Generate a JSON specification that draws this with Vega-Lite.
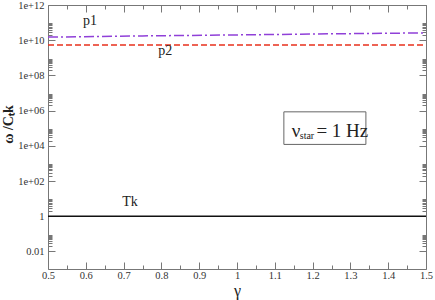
{
  "$schema": "https://vega.github.io/schema/vega-lite/v6.json",
  "width": 378,
  "height": 264,
  "autosize": {"type": "none"},
  "padding": {"left": 48, "top": 5, "right": 9, "bottom": 31},
  "config": {
    "view": {"stroke": null},
    "font": "Liberation Serif",
    "axis": {"grid": false, "domainColor": "#777", "tickColor": "#777", "labelColor": "#333", "labelFont": "Liberation Serif", "labelFontSize": 10.5, "titleFont": "Liberation Serif", "titleColor": "#222", "labelOverlap": false, "labelBound": false}
  },
  "datasets": {
    "lines": [
      {"g": 0.5, "v": 1.5e10, "s": "p1"},
      {"g": 0.75, "v": 1.75e10, "s": "p1"},
      {"g": 1.0, "v": 2.0e10, "s": "p1"},
      {"g": 1.25, "v": 2.3e10, "s": "p1"},
      {"g": 1.5, "v": 2.6e10, "s": "p1"},
      {"g": 0.5, "v": 5.4e9, "s": "p2"},
      {"g": 1.5, "v": 5.4e9, "s": "p2"},
      {"g": 0.5, "v": 1, "s": "Tk"},
      {"g": 1.5, "v": 1, "s": "Tk"}
    ],
    "labels": [
      {"g": 0.611, "v": 7.4e10, "t": "p1"},
      {"g": 0.81, "v": 1.4e9, "t": "p2"},
      {"g": 0.717, "v": 3.6, "t": "Tk"}
    ],
    "box": [{"g1": 1.124, "g2": 1.341, "v1": 1.2e4, "v2": 8.5e5}],
    "boxtext": [
      {"g": 1.145, "v": 3.2e4, "t": "ν", "k": "big"},
      {"g": 1.166, "v": 2.5e4, "t": "star", "k": "small"},
      {"g": 1.21, "v": 3.2e4, "t": "= 1 Hz", "k": "big"}
    ]
  },
  "layer": [
    {
      "data": {"name": "lines"},
      "mark": {"type": "line", "clip": true},
      "encoding": {
        "x": {"field": "g", "type": "quantitative", "scale": {"domain": [0.5, 1.5], "nice": false, "zero": false},
          "axis": {"orient": "bottom", "values": [0.5, 0.6, 0.7, 0.8, 0.9, 1, 1.1, 1.2, 1.3, 1.4, 1.5], "format": "~g", "tickSize": -7, "labelPadding": 8, "title": "γ", "titleFontSize": 16, "titleFontWeight": "normal", "titlePadding": 0, "titleY": 26, "titleBaseline": "alphabetic", "labelFlush": false}},
        "y": {"field": "v", "type": "quantitative", "scale": {"type": "log", "domain": [0.001, 1e12], "nice": false},
          "axis": {"orient": "left", "values": [0.01, 1, 100, 10000, 1000000, 100000000, 10000000000, 1000000000000], "labelExpr": "datum.value > 50 ? '1e+' + (round(log(datum.value)/LN10) < 10 ? '0' : '') + round(log(datum.value)/LN10) : (datum.value > 0.5 ? '1' : '0.01')", "tickSize": -7, "labelPadding": 11, "title": "ω /Cₜk", "titleFontSize": 14, "titleFontWeight": "bold", "titleX": -36, "titleY": 119, "titleAngle": 270, "titleAlign": "center", "titleBaseline": "alphabetic", "labelFlush": false}},
        "color": {"field": "s", "type": "nominal", "scale": {"domain": ["p1", "p2", "Tk"], "range": ["#9040d8", "#e8301c", "#111111"]}, "legend": null},
        "strokeDash": {"field": "s", "type": "nominal", "scale": {"domain": ["p1", "p2", "Tk"], "range": [[10, 3, 2, 3], [6, 3], [1, 0]]}, "legend": null},
        "strokeWidth": {"field": "s", "type": "nominal", "scale": {"domain": ["p1", "p2", "Tk"], "range": [1.5, 1.5, 2]}, "legend": null}
      }
    },
    {
      "data": {"name": "lines"},
      "mark": {"type": "point", "opacity": 0},
      "encoding": {
        "x": {"field": "g", "type": "quantitative", "axis": {"orient": "top", "values": [0.5, 0.6, 0.7, 0.8, 0.9, 1, 1.1, 1.2, 1.3, 1.4, 1.5], "labels": false, "tickSize": -7, "title": null}},
        "y": {"field": "v", "type": "quantitative", "axis": {"orient": "right", "values": [0.01, 1, 100, 10000, 1000000, 100000000, 10000000000, 1000000000000], "labels": false, "tickSize": -7, "title": null}}
      }
    },
    {
      "data": {"name": "lines"},
      "mark": {"type": "point", "opacity": 0},
      "encoding": {
        "x": {"field": "g", "type": "quantitative", "axis": {"orient": "bottom", "values": [0.55, 0.65, 0.75, 0.85, 0.95, 1.05, 1.15, 1.25, 1.35, 1.45], "labels": false, "tickSize": -4, "title": null, "domain": false}},
        "y": {"field": "v", "type": "quantitative", "axis": {"orient": "left", "values": [0.02, 0.03, 0.04, 0.05, 0.06, 0.07, 0.08, 0.09, 2, 3, 4, 5, 6, 7, 8, 9, 200, 300, 400, 500, 600, 700, 800, 900, 2e4, 3e4, 4e4, 5e4, 6e4, 7e4, 8e4, 9e4, 2e6, 3e6, 4e6, 5e6, 6e6, 7e6, 8e6, 9e6, 2e8, 3e8, 4e8, 5e8, 6e8, 7e8, 8e8, 9e8, 2e10, 3e10, 4e10, 5e10, 6e10, 7e10, 8e10, 9e10], "labels": false, "tickSize": -4, "title": null, "domain": false}}
      }
    },
    {
      "data": {"name": "lines"},
      "mark": {"type": "point", "opacity": 0},
      "encoding": {
        "x": {"field": "g", "type": "quantitative", "axis": {"orient": "top", "values": [0.55, 0.65, 0.75, 0.85, 0.95, 1.05, 1.15, 1.25, 1.35, 1.45], "labels": false, "tickSize": -4, "title": null, "domain": false}},
        "y": {"field": "v", "type": "quantitative", "axis": {"orient": "right", "values": [0.02, 0.03, 0.04, 0.05, 0.06, 0.07, 0.08, 0.09, 2, 3, 4, 5, 6, 7, 8, 9, 200, 300, 400, 500, 600, 700, 800, 900, 2e4, 3e4, 4e4, 5e4, 6e4, 7e4, 8e4, 9e4, 2e6, 3e6, 4e6, 5e6, 6e6, 7e6, 8e6, 9e6, 2e8, 3e8, 4e8, 5e8, 6e8, 7e8, 8e8, 9e8, 2e10, 3e10, 4e10, 5e10, 6e10, 7e10, 8e10, 9e10], "labels": false, "tickSize": -4, "title": null, "domain": false}}
      }
    },
    {
      "data": {"name": "labels"},
      "mark": {"type": "text", "font": "Liberation Serif", "fontSize": 14, "color": "#222", "align": "center", "baseline": "alphabetic"},
      "encoding": {
        "x": {"field": "g", "type": "quantitative", "axis": null},
        "y": {"field": "v", "type": "quantitative", "axis": null},
        "text": {"field": "t"}
      }
    },
    {
      "data": {"name": "box"},
      "mark": {"type": "rect", "fill": "white", "stroke": "#666", "strokeWidth": 1},
      "encoding": {
        "x": {"field": "g1", "type": "quantitative", "axis": null},
        "x2": {"field": "g2"},
        "y": {"field": "v1", "type": "quantitative", "axis": null},
        "y2": {"field": "v2"}
      }
    },
    {
      "data": {"name": "boxtext"},
      "mark": {"type": "text", "font": "Liberation Serif", "color": "#222", "align": "left", "baseline": "alphabetic"},
      "encoding": {
        "x": {"field": "g", "type": "quantitative", "axis": null},
        "y": {"field": "v", "type": "quantitative", "axis": null},
        "text": {"field": "t"},
        "size": {"field": "k", "type": "nominal", "scale": {"domain": ["big", "small"], "range": [19, 10]}, "legend": null}
      }
    }
  ],
  "resolve": {"axis": {"x": "independent", "y": "independent"}}
}
